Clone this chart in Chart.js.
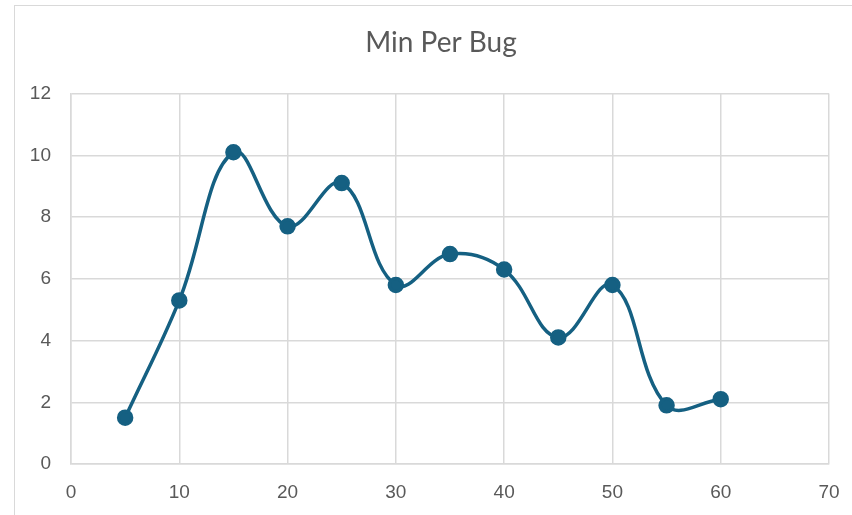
<!DOCTYPE html>
<html>
<head>
<meta charset="utf-8">
<script src="https://cdn.jsdelivr.net/npm/chart.js@4/dist/chart.umd.min.js"></script>
<style>
  html, body { margin: 0; padding: 0; background: #fff; overflow: hidden; }
  body { width: 852px; height: 515px; position: relative; }
  #frame {
    position: absolute; left: 14px; top: 5px; width: 852px; height: 530px;
    border: 1px solid #d9d9d9; box-sizing: border-box; background: #fff;
  }
  #wrap { position: absolute; left: 0; top: 0; width: 852px; height: 510px; }
</style>
</head>
<body>
<div id="frame">
  <div id="wrap"><canvas id="chart"></canvas></div>
</div>
<script>
const minutes = [5, 10, 15, 20, 25, 30, 35, 40, 45, 50, 55, 60];
const minPerBug = [1.5, 5.3, 10.1, 7.7, 9.1, 5.8, 6.8, 6.3, 4.1, 5.8, 1.9, 2.1];
const xTicks = [0, 10, 20, 30, 40, 50, 60, 70];
const yTicks = [0, 2, 4, 6, 8, 10, 12];

const points = minutes.map((x, i) => ({ x: x, y: minPerBug[i] }));

const ctx = document.querySelector("#chart").getContext("2d");

// tick label style shared by both axes
const tickFont = { family: "'Liberation Sans', Arial, sans-serif", size: 19 };

new Chart(ctx, {
    type: "scatter",
    data: {
        datasets: [
            {
                label: "Min Per Bug",
                data: points,
                showLine: true,
                borderColor: "#156082",
                backgroundColor: "#156082",
                borderWidth: 3.5,
                pointRadius: 6.5,
                pointHoverRadius: 6.5,
                tension: 0.4
            }
        ]
    },
    options: {
        responsive: true,
        maintainAspectRatio: false,
        animation: false,
        layout: { padding: { left: 0, right: 0, top: 0, bottom: 12 } },
        plugins: {
            legend: { display: false },
            tooltip: { enabled: false },
            title: {
                display: true,
                text: "Min Per Bug",
                color: "#595959",
                font: { family: "Lato", size: 28, weight: "normal" },
                padding: { top: 20, bottom: 34 }
            }
        },
        scales: {
            x: {
                type: "linear",
                min: xTicks[0],
                max: xTicks[xTicks.length - 1],
                afterBuildTicks: (s) => { s.ticks = xTicks.map(v => ({ value: v })); },
                afterFit: (s) => { s.height = 40; },
                grid: { color: "#d9d9d9", lineWidth: 1.5, drawTicks: false },
                border: { color: "#d9d9d9", width: 1.5 },
                ticks: { color: "#595959", padding: 17, font: tickFont }
            },
            y: {
                min: yTicks[0],
                max: yTicks[yTicks.length - 1],
                afterBuildTicks: (s) => { s.ticks = yTicks.map(v => ({ value: v })); },
                afterFit: (s) => { s.width = 56; },
                grid: { color: "#d9d9d9", lineWidth: 1.5, drawTicks: false },
                border: { color: "#d9d9d9", width: 1.5 },
                ticks: { color: "#595959", padding: 20, font: tickFont }
            },
            // empty right-hand spacer so the title stays centred on the whole chart
            spacer: {
                position: "right",
                min: 0,
                max: 1,
                afterFit: (s) => { s.width = 38; },
                grid: { display: false },
                border: { display: false },
                ticks: { display: false }
            }
        }
    }
})
</script>
</body>
</html>
